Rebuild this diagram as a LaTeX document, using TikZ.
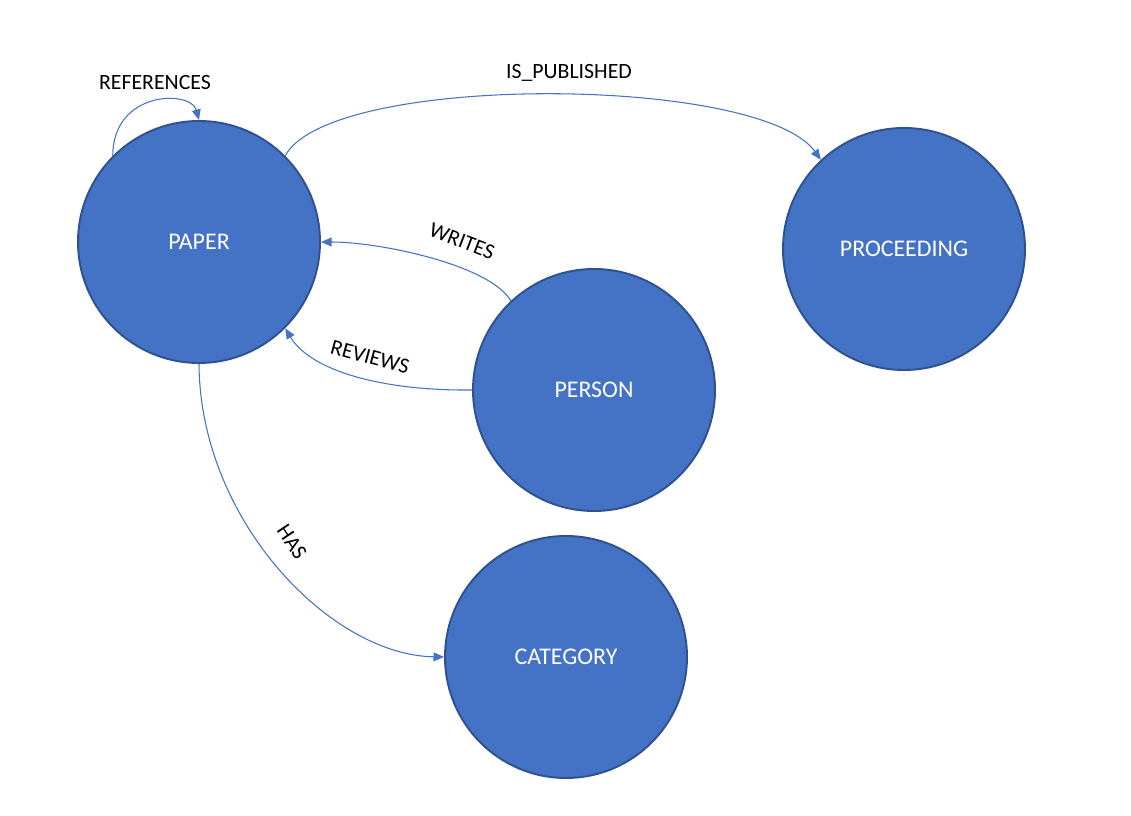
\documentclass[tikz,border=0pt]{standalone}
\usepackage{fontspec}
\setmainfont{Carlito}
\usepackage{xcolor}
\usepackage{tikz}
\usetikzlibrary{arrows.meta}

\definecolor{entblue}{HTML}{4472C4}
\definecolor{entedge}{HTML}{2F528F}

\tikzset{
  entity/.style={draw=entedge, circle, line width=1.1pt, fill=entblue, minimum size=4.84cm, inner sep=0pt, text=white, font=\fontsize{13.6}{16}\selectfont},
  rel/.style={draw=entblue, line width=0.6pt, -{Triangle[length=6pt,width=5pt]}},
  rlabel/.style={font=\fontsize{12.4}{14}\selectfont, text=black, inner sep=0.5pt}
}

\begin{document}
\begin{tikzpicture}
          \useasboundingbox[fill=white] (0,0) rectangle (22.62,-16.32);
          \node[entity] (paper) at (3.98,-4.84) {PAPER};
          \node[entity] (proceeding) at (18.08,-4.98) {PROCEEDING};
          \node[entity] (person) at (11.88,-7.80) {PERSON};
          \node[entity] (category) at (11.32,-13.14) {CATEGORY};
          \draw[rel] (paper.135) .. controls (2.26,-1.80) and (3.82,-1.80) .. (paper.90);
          \draw[rel] (paper.45) .. controls (6.60,-1.45) and (15.20,-1.50) .. (proceeding.133);
          \draw[rel] (person.133) .. controls (9.80,-5.30) and (7.60,-4.84) .. (paper.0);
          \draw[rel] (person.180) .. controls (7.60,-7.82) and (6.20,-7.40) .. (paper.-45);
          \draw[rel] (paper.-90) .. controls (4.00,-10.40) and (6.60,-13.10) .. (category.180);
          \node[rlabel] (reflabel) at (3.10,-1.66) {REFERENCES};
          \node[rlabel] (publabel) at (11.38,-1.46) {IS\_PUBLISHED};
          \node[rlabel, rotate=-21] (writeslabel) at (9.24,-4.82) {WRITES};
          \node[rlabel, rotate=-15] (reviewslabel) at (7.40,-7.14) {REVIEWS};
          \node[rlabel, rotate=-56] (haslabel) at (5.84,-10.84) {HAS};
        \end{tikzpicture}
\end{document}
